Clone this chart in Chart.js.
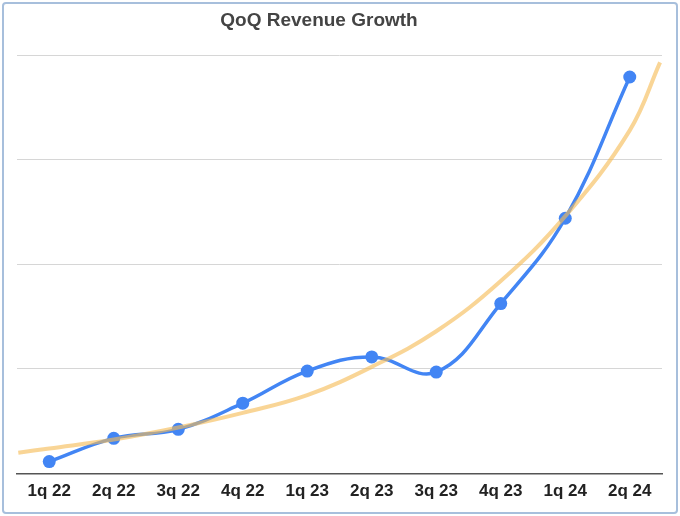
<!DOCTYPE html>
<html>
<head>
<meta charset="utf-8">
<script src="https://cdn.jsdelivr.net/npm/chart.js@4/dist/chart.umd.min.js"></script>
<style>
    html, body { margin: 0; padding: 0; background: #fff; }
    #wrap { position: relative; width: 680px; height: 516px; }
    #frame {
        position: absolute; left: 2px; top: 2px; width: 672px; height: 508px;
        border: 2px solid #a7bfdc; border-radius: 4px; pointer-events: none;
    }
    #title {
        position: absolute; left: 0; width: 638px; top: 9px; text-align: center;
        font: bold 19px "Liberation Sans", Arial, sans-serif; color: #444;
    }
    canvas { position: absolute; left: 0; top: 0; }
</style>
</head>
<body>
<div id="wrap">
    <canvas id="chart" width="680" height="516"></canvas>
    <div id="title">QoQ Revenue Growth</div>
    <div id="frame"></div>
</div>
<script>
// categorias do eixo x
const quarters = ['1q 22', '2q 22', '3q 22', '4q 22', '1q 23', '2q 23', '3q 23', '4q 23', '1q 24', '2q 24'];
// receita (sem escala no eixo y)
const revenue = [11.5, 33.7, 42.3, 67.3, 98, 111.5, 97, 162.5, 244, 379];
// linha de tendência (posição x em índice de trimestre)
const trendX = [-0.48, 0, 1, 2, 3, 4, 5, 6, 7, 8, 9, 9.47];
const trendY = [20, 24, 32.5, 44, 58, 75, 102, 136, 184, 246, 328, 393];

const ctx = document.getElementById('chart').getContext('2d');
new Chart(ctx, {
    type: 'line',
    data: {
        datasets: [
            {
                label: 'Tendência',
                data: trendX.map((x, i) => ({ x: x, y: trendY[i] })),
                borderColor: 'rgba(246, 188, 85, 0.62)',
                borderWidth: 4,
                pointRadius: 0,
                tension: 0.4,
                order: 0
            },
            {
                label: 'Receita',
                data: revenue.map((v, i) => ({ x: i, y: v })),
                borderColor: '#4285f4',
                backgroundColor: '#4285f4',
                borderWidth: 3.5,
                pointRadius: 6.5,
                pointBorderWidth: 0,
                tension: 0.4,
                order: 1
            }
        ]
    },
    options: {
        responsive: false,
        animation: false,
        layout: {
            padding: { left: 17, right: 18, top: 55, bottom: 6 }
        },
        plugins: {
            legend: { display: false },
            tooltip: { enabled: false }
        },
        scales: {
            x: {
                type: 'linear',
                min: -0.5,
                max: 9.5,
                afterBuildTicks: (scale) => {
                    scale.ticks = quarters.map((q, i) => ({ value: i }));
                },
                ticks: {
                    callback: (v) => quarters[v],
                    color: '#222',
                    font: { family: 'Liberation Sans, Arial, sans-serif', size: 17, weight: 'bold' },
                    padding: 8,
                    maxRotation: 0,
                    autoSkip: false
                },
                grid: { display: false, drawTicks: false },
                border: { display: true, color: '#555', width: 1.5 }
            },
            y: {
                min: 0,
                max: 400,
                ticks: { display: false, stepSize: 100 },
                grid: { color: '#d6d6d6', lineWidth: 1, drawTicks: false },
                border: { display: false },
                afterFit: (scale) => { scale.width = 0; }
            }
        }
    }
});
</script>
</body>
</html>
